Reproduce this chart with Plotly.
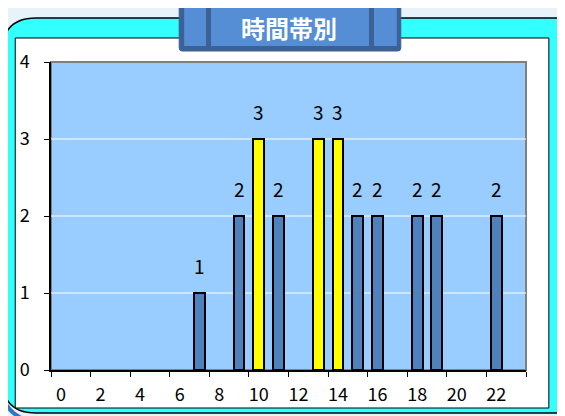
import plotly.graph_objects as go

hours = list(range(24))
counts = [0, 0, 0, 0, 0, 0, 0, 1, 0, 2, 3, 2, 0, 3, 3, 2, 2, 0, 2, 2, 0, 0, 2, 0]
xtick_labels = [str(h) for h in range(0, 24, 2)]
y_ticks = [0, 1, 2, 3, 4]
title_text = "時間帯別"

W, H = 565, 416
OFF = 8  # page body margin offset
L, R, T, B = 48 - OFF, 526 - OFF, 62 - OFF, 370 - OFF  # plot area in figure px

def px(x):
    return (x - OFF - L) / (R - L)

def py(y):
    return 1 - (y - OFF - T) / (B - T)

def rrect(x0, y0, x1, y1, r):
    p = []
    p.append(f"M {px(x0 + r)} {py(y0)}")
    p.append(f"L {px(x1 - r)} {py(y0)}")
    p.append(f"Q {px(x1)} {py(y0)} {px(x1)} {py(y0 + r)}")
    p.append(f"L {px(x1)} {py(y1 - r)}")
    p.append(f"Q {px(x1)} {py(y1)} {px(x1 - r)} {py(y1)}")
    p.append(f"L {px(x0 + r)} {py(y1)}")
    p.append(f"Q {px(x0)} {py(y1)} {px(x0)} {py(y1 - r)}")
    p.append(f"L {px(x0)} {py(y0 + r)}")
    p.append(f"Q {px(x0)} {py(y0)} {px(x0 + r)} {py(y0)}")
    p.append("Z")
    return " ".join(p)

vmax = max(counts)
bx = [h for h, c in zip(hours, counts) if c > 0]
by = [c for c in counts if c > 0]
colors = ["#FFFF00" if c == vmax else "#4F81BD" for c in by]

fig = go.Figure()
fig.add_trace(go.Bar(
    x=bx, y=by, width=0.55,
    marker=dict(color=colors, line=dict(color="#000000", width=2)),
    hoverinfo="skip",
))

shapes = []
shapes.append(dict(type="path", xref="paper", yref="paper",
                   path=f"M {px(-2)} {py(392)} Q {px(2)} {py(412)} {px(22)} {py(420)}",
                   line=dict(color="#2E75C6", width=4), layer="below"))
shapes.append(dict(type="path", xref="paper", yref="paper",
                   path=rrect(-1, 18, 600, 413, 34),
                   fillcolor="#33FFFF", line=dict(color="#000000", width=1.5), layer="below"))
shapes.append(dict(type="rect", xref="paper", yref="paper",
                   x0=px(12), x1=px(549), y0=py(408), y1=py(38),
                   fillcolor="#FFFFFF", line=dict(color="#000000", width=1), layer="below"))
# plot area background + gray border
shapes.append(dict(type="rect", xref="paper", yref="paper",
                   x0=0, x1=1, y0=0, y1=1,
                   fillcolor="#99CCFF", line=dict(color="#808080", width=2), layer="below"))
# gridlines (drawn above plot background shape)
for v in y_ticks[1:-1]:
    shapes.append(dict(type="line", xref="paper", yref="y", x0=0, x1=1, y0=v, y1=v,
                       line=dict(color="#FFFFFF", width=1), layer="below"))
# title box
shapes.append(dict(type="path", xref="paper", yref="paper",
                   path=rrect(177, -4, 400, 51, 3),
                   fillcolor="#3B6196", line=dict(color="#3B6196", width=1)))
for (a, b) in [(182, 204), (209, 368), (373, 396)]:
    shapes.append(dict(type="rect", xref="paper", yref="paper",
                       x0=px(a), x1=px(b), y0=py(46), y1=py(4),
                       fillcolor="#558ED5", line=dict(width=0)))

annotations = []
for h, c in zip(bx, by):
    annotations.append(dict(x=h, y=c, xref="x", yref="y", text=str(c),
                            showarrow=False, yanchor="middle", yshift=28,
                            font=dict(size=19, color="#000000",
                                      family="Noto Sans CJK JP")))
annotations.append(dict(x=px(288), y=py(27), xref="paper", yref="paper",
                        text=f"<b>{title_text}</b>", showarrow=False,
                        xanchor="center", yanchor="middle",
                        font=dict(size=24, color="#FFFFFF",
                                  family="Noto Sans CJK JP")))

fig.update_layout(
    width=W, height=H,
    margin=dict(l=L, r=W - R, t=T, b=H - B, pad=0),
    paper_bgcolor="#E8F3F9",
    plot_bgcolor="#99CCFF",
    showlegend=False,
    bargap=0,
    shapes=shapes,
    annotations=annotations,
    font=dict(family="Noto Sans CJK JP", size=18, color="#000000"),
)
fig.update_xaxes(
    range=[-0.5, 23.5],
    tickmode="array", tickvals=list(range(0, 24, 2)), ticktext=xtick_labels,
    ticks="", showgrid=False, zeroline=False,
    showline=True, linecolor="#000000", linewidth=1.5,
    tickfont=dict(size=18, color="#000000"),
    ticklabelstandoff=8,
    minor=dict(tickmode="linear", tick0=-0.5, dtick=2, ticks="outside",
               ticklen=5, tickcolor="#000000", tickwidth=1, showgrid=False),
    fixedrange=True,
)
fig.update_yaxes(
    range=[0, 4], tickmode="array", tickvals=y_ticks,
    ticks="outside", ticklen=5, tickcolor="#000000",
    showgrid=False,
    zeroline=False, showline=True, linecolor="#000000", linewidth=1.5,
    ticklabelstandoff=11,
    tickfont=dict(size=18, color="#000000"),
    fixedrange=True,
)

fig.write_html("out.html", config={"displayModeBar": False})
